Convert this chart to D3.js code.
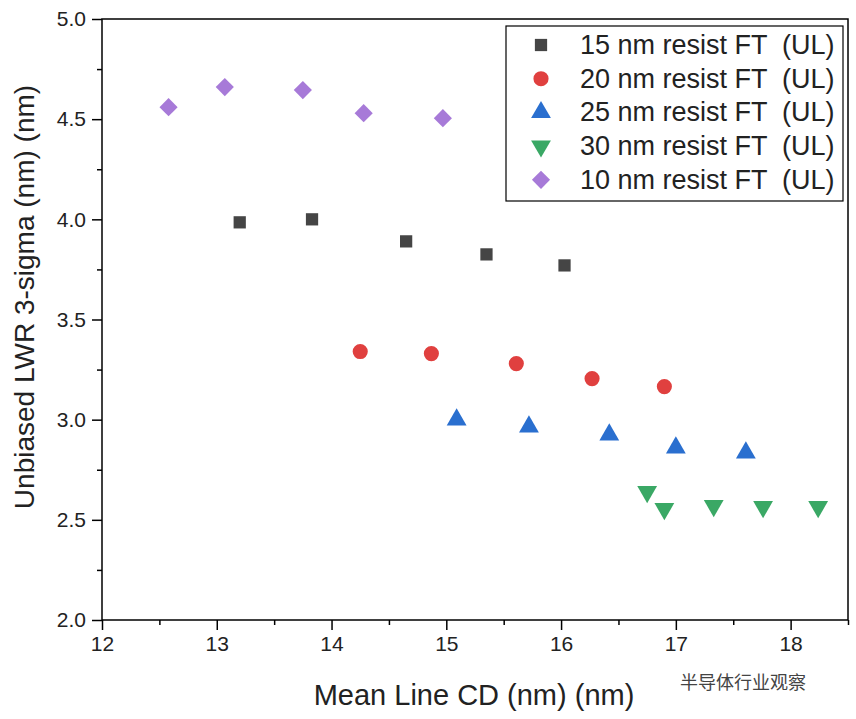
<!DOCTYPE html><html><head><meta charset="utf-8"><script src="https://cdn.jsdelivr.net/npm/d3@7"></script>
<style>body{margin:0;background:#fff}</style></head><body><svg id="c" width="856" height="719"></svg>
<script>
const seriesNames=["15 nm resist FT  (UL)","20 nm resist FT  (UL)","25 nm resist FT  (UL)","30 nm resist FT  (UL)","10 nm resist FT  (UL)"];
const colors=["#454545","#e0403f","#2a6fcf","#3aa865","#a77ad8"];
const symbols=["square","circle","up","down","diamond"];
const xs=[[13.2,13.83,14.65,15.35,16.03],[14.25,14.87,15.61,16.27,16.9],[15.09,15.72,16.42,17.0,17.61],[16.75,16.9,17.33,17.76,18.24],[12.58,13.07,13.75,14.28,14.97]];
const ys=[[3.985,4.0,3.89,3.825,3.77],[3.34,3.33,3.28,3.205,3.165],[3.0,2.965,2.925,2.86,2.835],[2.64,2.555,2.57,2.565,2.565],[4.56,4.66,4.645,4.53,4.505]];
const xTicks=[12,13,14,15,16,17,18], yTicks=[2.0,2.5,3.0,3.5,4.0,4.5,5.0];
const svg=d3.select("#c");
const L=102,R=848,T=19,B=620;
const x=d3.scaleLinear().domain([12,18.5]).range([L,R]);
const y=d3.scaleLinear().domain([2,5]).range([B,T]);
const F="Arial, Liberation Sans, sans-serif";
svg.append("rect").attr("x",L).attr("y",T).attr("width",R-L).attr("height",B-T).attr("fill","none").attr("stroke","#000").attr("stroke-width",1.5);
svg.append("g").attr("transform",`translate(0,${B})`).call(d3.axisBottom(x).tickValues(xTicks).tickSize(10).tickPadding(6).tickFormat(d3.format("d")));
svg.append("g").attr("transform",`translate(0,${B})`).call(d3.axisBottom(x).tickValues(d3.range(12.5,18.6,1)).tickSize(5).tickFormat(""));
svg.append("g").attr("transform",`translate(${L},0)`).call(d3.axisLeft(y).tickValues(yTicks).tickSize(10).tickPadding(6).tickFormat(d3.format(".1f")));
svg.append("g").attr("transform",`translate(${L},0)`).call(d3.axisLeft(y).tickValues(d3.range(2.25,5,0.5)).tickSize(5).tickFormat(""));
svg.selectAll(".domain").remove();
svg.selectAll(".tick line").attr("stroke","#000").attr("stroke-width",1.5);
svg.selectAll(".tick text").attr("font-family",F).attr("font-size",21).attr("fill","#222");
svg.append("text").attr("x",474).attr("y",705).attr("text-anchor","middle").attr("font-family",F).attr("font-size",29).attr("fill","#222").text("Mean Line CD (nm) (nm)");
svg.append("text").attr("transform",`translate(34,297) rotate(-90)`).attr("text-anchor","middle").attr("font-family",F).attr("font-size",28).attr("fill","#222").text("Unbiased LWR 3-sigma (nm) (nm)");
function sym(i){const s=symbols[i];
 if(s==="square")return d3.symbol(d3.symbolSquare,150)();
 if(s==="circle")return d3.symbol(d3.symbolCircle,180)();
 if(s==="diamond")return d3.symbol(d3.symbolSquare,165)();
 return d3.symbol(d3.symbolTriangle,170)();}
function tr(i){return symbols[i]==="down"?" rotate(180)":symbols[i]==="diamond"?" rotate(45)":"";}
seriesNames.forEach((n,i)=>{
 svg.append("g").selectAll("path").data(xs[i].map((v,j)=>[v,ys[i][j]])).join("path").attr("d",sym(i)).attr("fill",colors[i]).attr("transform",d=>`translate(${x(d[0])},${y(d[1])})`+tr(i));
});
svg.append("rect").attr("x",506).attr("y",26).attr("width",337).attr("height",175).attr("fill","#fff").attr("stroke","#000").attr("stroke-width",1.2);
seriesNames.forEach((n,i)=>{
 const yy=45+i*33.7;
 svg.append("path").attr("d",sym(i)).attr("fill",colors[i]).attr("transform",`translate(541,${yy})`+tr(i));
 svg.append("text").attr("x",580).attr("y",yy+9).attr("font-family",F).attr("font-size",27).attr("fill","#222").style("white-space","pre").text(n);
});
svg.append("text").attr("x",680).attr("y",689).attr("font-family","Noto Sans CJK SC").attr("font-size",18).attr("fill","#444").text("半导体行业观察");
</script></body></html>
